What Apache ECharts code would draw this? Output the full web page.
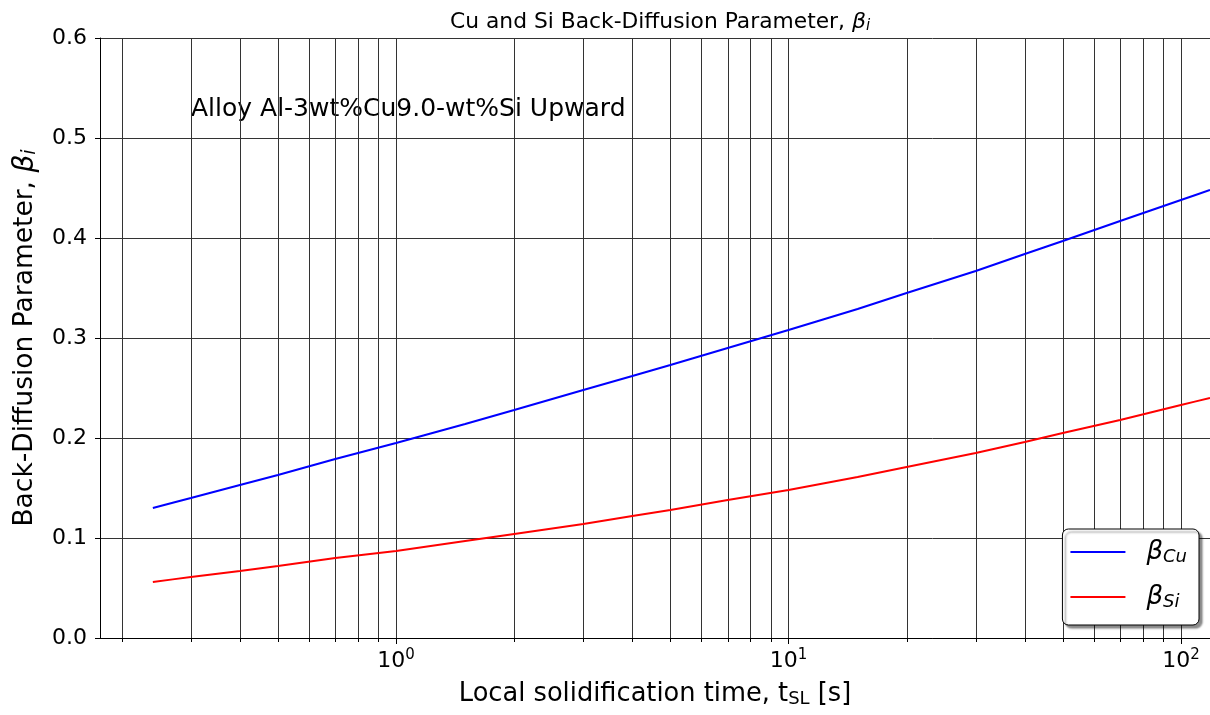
<!DOCTYPE html>
<html>
<head>
<meta charset="utf-8">
<script src="https://cdn.jsdelivr.net/npm/echarts@6/dist/echarts.min.js"></script>
<style>
  html, body { margin: 0; padding: 0; background: #fff; }
  #chart { width: 1210px; height: 715px; }
</style>
</head>
<body>
<div id="chart"></div>
<script>
// local solidification time t_SL [s]
const tSL = [0.24, 0.3, 0.4, 0.5, 0.7, 1, 1.5, 2, 3, 4, 5, 7, 10, 15, 20, 30, 40, 50, 70, 100, 118.6];
// back-diffusion parameters
const betaCu = [0.130, 0.140, 0.153, 0.163, 0.179, 0.195, 0.214, 0.228, 0.248, 0.262, 0.273, 0.290, 0.308, 0.329, 0.345, 0.367, 0.384, 0.397, 0.417, 0.438, 0.448];
const betaSi = [0.056, 0.061, 0.067, 0.072, 0.080, 0.087, 0.097, 0.104, 0.114, 0.122, 0.128, 0.138, 0.148, 0.161, 0.171, 0.185, 0.196, 0.205, 0.218, 0.233, 0.240];
// minor log ticks / grid lines
const minorTicks = [0.2, 0.3, 0.4, 0.5, 0.6, 0.7, 0.8, 0.9, 2, 3, 4, 5, 6, 7, 8, 9, 20, 30, 40, 50, 60, 70, 80, 90];
const xMin = 0.176, xMax = 118.6;
const yMin = 0, yMax = 0.6;

const chart = echarts.init(document.getElementById('chart'));
const font = 'DejaVu Sans';

chart.setOption({
    animation: false,
    textStyle: { fontFamily: font, color: '#000' },
    title: {
        text: '{n|Cu and Si Back-Diffusion Parameter, }{b|β}{s|i}',
        left: 445,
        top: 6,
        textStyle: {
            fontWeight: 'normal',
            rich: {
                n: { fontFamily: font, fontSize: 21.8, fontWeight: 'normal', color: '#000' },
                b: { fontFamily: font, fontSize: 22, fontStyle: 'italic', fontWeight: 'normal', color: '#000' },
                s: { fontFamily: font, fontSize: 15, fontStyle: 'italic', fontWeight: 'normal', color: '#000', verticalAlign: 'bottom', padding: [8, 0, 0, 0] }
            }
        }
    },
    grid: { left: 100, right: 0, top: 38, bottom: 77 },
    legend: {
        orient: 'vertical',
        right: 11,
        bottom: 90,
        icon: 'rect',
        itemWidth: 55,
        itemHeight: 2,
        itemGap: 17,
        padding: [9, 12, 14, 8],
        backgroundColor: '#fff',
        borderColor: '#000',
        borderWidth: 1,
        borderRadius: 6,
        shadowColor: 'rgba(0,0,0,0.45)',
        shadowOffsetX: 3,
        shadowOffsetY: 3,
        shadowBlur: 2,
        data: ['Cu', 'Si'],
        formatter: name => '{b|β}{s|' + name + '}',
        textStyle: {
            rich: {
                b: { fontFamily: font, fontSize: 26, fontStyle: 'italic', color: '#000', lineHeight: 28, padding: [0, 0, 0, 16] },
                s: { fontFamily: font, fontSize: 18, fontStyle: 'italic', color: '#000', verticalAlign: 'bottom', lineHeight: 28, padding: [10, 0, 0, 0] }
            }
        }
    },
    graphic: [{
        type: 'text',
        left: 191,
        top: 97,
        style: { text: 'Alloy Al-3wt%Cu9.0-wt%Si Upward', font: '25px "DejaVu Sans"', fill: '#000' }
    }],
    xAxis: {
        type: 'log',
        logBase: 10,
        min: xMin,
        max: xMax,
        name: '{n|Local solidification time, t}{s|SL}{n| [s]}',
        nameLocation: 'middle',
        nameGap: 42,
        nameTextStyle: {
            rich: {
                n: { fontFamily: font, fontSize: 25.7, color: '#000' },
                s: { fontFamily: font, fontSize: 18, color: '#000', verticalAlign: 'bottom', padding: [10, 0, 0, 0] }
            }
        },
        axisLine: { show: true, onZero: false, lineStyle: { color: '#000', width: 1 } },
        axisTick: { show: true, length: 6, lineStyle: { color: '#000' } },
        axisLabel: {
            margin: 10,
            showMinLabel: false,
            showMaxLabel: false,
            formatter: v => {
                const e = Math.log10(v);
                if (Math.abs(e - Math.round(e)) > 1e-6) return '';
                return '{b|10}{s|' + Math.round(e) + '}';
            },
            rich: {
                b: { fontFamily: font, fontSize: 22, color: '#000', lineHeight: 26 },
                s: { fontFamily: font, fontSize: 15, color: '#000', verticalAlign: 'top', lineHeight: 26 }
            }
        },
        splitLine: { show: true, lineStyle: { color: '#333', width: 1 } }
    },
    yAxis: {
        type: 'value',
        min: yMin,
        max: yMax,
        interval: 0.1,
        name: '{n|Back-Diffusion Parameter, }{b|β}{s|i}',
        nameLocation: 'middle',
        nameGap: 60,
        nameTextStyle: {
            rich: {
                n: { fontFamily: font, fontSize: 26.5, color: '#000' },
                b: { fontFamily: font, fontSize: 28, fontStyle: 'italic', color: '#000' },
                s: { fontFamily: font, fontSize: 19, fontStyle: 'italic', color: '#000', verticalAlign: 'bottom', padding: [10, 0, 0, 0] }
            }
        },
        axisLine: { show: true, lineStyle: { color: '#000', width: 1 } },
        axisTick: { show: true, length: 5, lineStyle: { color: '#000' } },
        axisLabel: {
            margin: 13,
            fontSize: 22,
            color: '#000',
            formatter: v => v.toFixed(1)
        },
        splitLine: { show: true, lineStyle: { color: '#333', width: 1 } }
    },
    series: [
        {
            name: 'Cu',
            type: 'line',
            data: tSL.map((t, i) => [t, betaCu[i]]),
            symbol: 'none',
            smooth: 0.2,
            color: '#0000ff',
            lineStyle: { width: 2, color: '#0000ff' },
            z: 5
        },
        {
            name: 'Si',
            type: 'line',
            data: tSL.map((t, i) => [t, betaSi[i]]),
            symbol: 'none',
            smooth: 0.2,
            color: '#ff0000',
            lineStyle: { width: 2, color: '#ff0000' },
            z: 5
        },
        {
            // minor log grid lines with small ticks below the axis
            type: 'custom',
            data: minorTicks.map(v => [v, 0]),
            clip: false,
            silent: true,
            z: 1,
            renderItem: (params, api) => {
                const top = api.coord([api.value(0), yMax]);
                const bot = api.coord([api.value(0), yMin]);
                const x = Math.round(top[0]) + 0.5;
                return {
                    type: 'group',
                    children: [
                        { type: 'line', shape: { x1: x, y1: top[1], x2: x, y2: bot[1] }, style: { stroke: '#333', lineWidth: 1 } },
                        { type: 'line', shape: { x1: x, y1: bot[1], x2: x, y2: bot[1] + 4 }, style: { stroke: '#000', lineWidth: 1 } }
                    ]
                };
            }
        }
    ]
});

window.addEventListener('resize', () => chart.resize());
</script>
</body>
</html>
